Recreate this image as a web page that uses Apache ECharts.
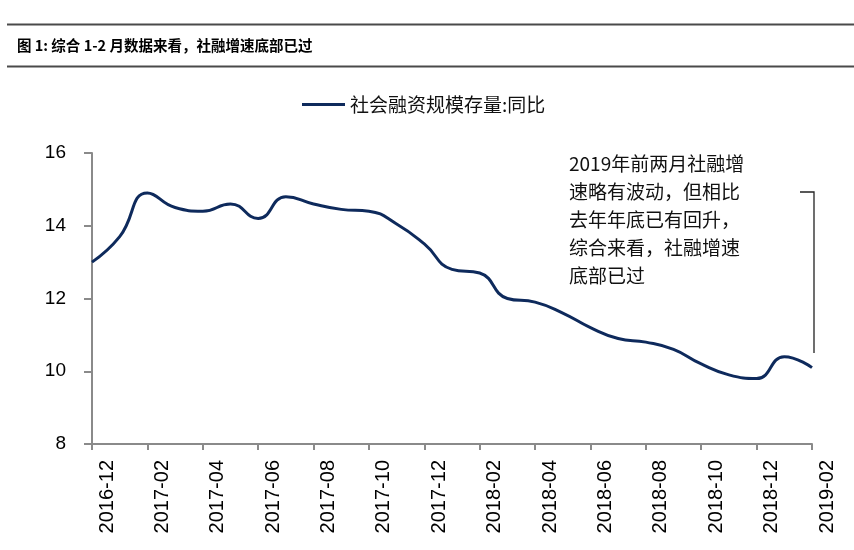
<!DOCTYPE html>
<html>
<head>
<meta charset="utf-8">
<script src="https://cdn.jsdelivr.net/npm/echarts@6/dist/echarts.min.js"></script>
<style>
html,body{margin:0;padding:0;background:#fff;}
#main{width:854px;height:550px;}
</style>
</head>
<body>
<div id="main"></div>
<script>
const categories = ['2016-12','2017-01','2017-02','2017-03','2017-04','2017-05','2017-06','2017-07','2017-08','2017-09','2017-10','2017-11','2017-12','2018-01','2018-02','2018-03','2018-04','2018-05','2018-06','2018-07','2018-08','2018-09','2018-10','2018-11','2018-12','2019-01','2019-02'];
const tsfGrowth = [13.0,13.7,14.9,14.5,14.4,14.6,14.2,14.8,14.6,14.45,14.4,14.05,13.5,12.8,12.7,12.0,11.9,11.6,11.2,10.9,10.8,10.6,10.2,9.9,9.8,10.4,10.1];
const seriesName = '社会融资规模存量:同比';
const titleText = '图 1: 综合 1-2 月数据来看，社融增速底部已过';
const noteText = '2019年前两月社融增\n速略有波动，但相比\n去年年底已有回升，\n综合来看，社融增速\n底部已过';

const chart = echarts.init(document.getElementById('main'), null, {renderer:'canvas'});
chart.setOption({
  animation:false,
  backgroundColor:'#ffffff',
  title:{
    text:titleText,
    left:17, top:38, padding:0,
    textStyle:{fontSize:14.5, fontWeight:'bold', color:'#000', fontFamily:'"Noto Sans CJK SC", sans-serif'}
  },
  legend:{
    data:[{name:seriesName, icon:'rect'}],
    left:302, top:95, padding:0,
    itemWidth:43, itemHeight:3,
    textStyle:{fontSize:19, color:'#111', fontFamily:'"Noto Sans CJK SC", sans-serif'}
  },
  grid:{left:92, right:42, top:153, bottom:106, containLabel:false, outerBoundsMode:'none'},
  xAxis:{
    type:'category',
    data:categories,
    boundaryGap:false,
    axisLine:{show:true, lineStyle:{color:'#8a8a8a', width:2}},
    axisTick:{show:true, interval:1, length:6, lineStyle:{color:'#8a8a8a', width:2}},
    axisLabel:{
      interval:1, rotate:90, margin:16, fontSize:20, color:'#000',
      fontFamily:'"Liberation Sans", Arial, sans-serif',
      verticalAlign:'top', lineHeight:30
    },
    splitLine:{show:false}
  },
  yAxis:{
    type:'value',
    min:8, max:16, interval:2,
    axisLine:{show:true, lineStyle:{color:'#8a8a8a', width:2}},
    axisTick:{show:true, length:8, lineStyle:{color:'#8a8a8a', width:2}},
    axisLabel:{margin:26, fontSize:19, color:'#000', fontFamily:'"Liberation Sans", Arial, sans-serif'},
    splitLine:{show:false}
  },
  series:[{
    name:seriesName,
    type:'line',
    data:tsfGrowth,
    smooth:0.5,
    symbol:'none',
    lineStyle:{color:'#0e2a5c', width:3},
    itemStyle:{color:'#0e2a5c'}
  }],
  graphic:[
    {type:'line', shape:{x1:7, y1:24.5, x2:854, y2:24.5}, style:{stroke:'#4a4a4a', lineWidth:2}},
    {type:'line', shape:{x1:7, y1:66.5, x2:854, y2:66.5}, style:{stroke:'#4a4a4a', lineWidth:2}},
    {type:'text', left:569, top:150,
     style:{text:noteText, fontSize:19, lineHeight:28, fill:'#111', fontFamily:'"Noto Sans CJK SC", sans-serif'}},
    {type:'polyline', shape:{points:[[800,192],[814,192],[814,353]]}, style:{stroke:'#222', lineWidth:1.3, fill:null}}
  ]
});
</script>
</body>
</html>
